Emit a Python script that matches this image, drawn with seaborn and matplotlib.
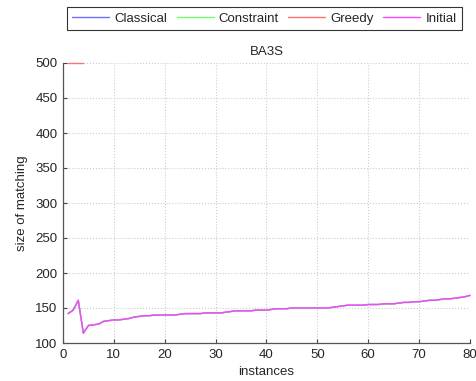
import numpy as np
import pandas as pd
import seaborn as sns
from matplotlib import pyplot as plt

# instance index and matching sizes
instances = list(range(1, 81))
initial = [142, 147, 161, 114, 125, 126, 127, 131, 132, 133,
           133, 134, 135, 137, 138, 139, 139, 140, 140, 140,
           140, 140, 141, 142, 142, 142, 142, 143, 143, 143,
           143, 144, 145, 146, 146, 146, 146, 147, 147, 147,
           148, 149, 149, 149, 150, 150, 150, 150, 150, 150,
           150, 150, 151, 152, 153, 154, 154, 154, 154, 155,
           155, 155, 156, 156, 156, 157, 158, 158, 159, 159,
           160, 161, 161, 162, 163, 163, 164, 165, 166, 168]
# Classical and Constraint lie under the Initial curve
classical = list(initial)
constraint = list(initial)
# Greedy only shows at the top edge for the first instances
greedy = [500, 500, 500, 500] + [np.nan] * 76

series_names = ["Classical", "Constraint", "Greedy", "Initial"]
series_colors = ["#7070ff", "#70ff70", "#ff7070", "#ff40ff"]
series_values = [classical, constraint, greedy, initial]

sns.set_style("ticks")
plt.rcParams["font.family"] = ["Liberation Sans", "DejaVu Sans"]
plt.rcParams["font.size"] = 9.5

fig = plt.figure(figsize=(4.77, 3.81), dpi=100)
ax = fig.add_axes([63 / 477, 1 - 343 / 381, 407 / 477, 280 / 381])

# one line per method, drawn in legend order so Initial ends on top
for name, vals, color in zip(series_names, series_values, series_colors):
    df = pd.DataFrame({"instances": instances, "size": vals}).dropna()
    sns.lineplot(data=df, x="instances", y="size", color=color,
                 linewidth=1.0, ax=ax, label=name, legend=False)
    ax.lines[-1].set_clip_on(False)

ax.set_xlim(0, 80)
ax.set_ylim(100, 500)
ax.set_xticks(range(0, 81, 10))
ax.set_yticks(range(100, 501, 50))
ax.grid(True, linestyle=":", color="#cccccc", linewidth=0.8)
ax.tick_params(direction="in", length=3, color="#444444", labelsize=9.5,
               pad=4)
sns.despine(ax=ax)
for side in ["left", "bottom"]:
    ax.spines[side].set_color("#555555")
    ax.spines[side].set_linewidth(0.9)

ax.set_xlabel("instances", fontsize=9.5, labelpad=4)
ax.set_ylabel("size of matching", fontsize=9.5, labelpad=5)
ax.set_title("BA3S", fontsize=9.5, pad=6)

handles = [plt.Line2D([], [], color=c, linewidth=1.0)
           for c in series_colors]
leg = fig.legend(handles, series_names, loc="upper left",
                 bbox_to_anchor=(67 / 477, 1 - 7 / 381), ncol=4,
                 frameon=True, fancybox=False, handlelength=2.8,
                 columnspacing=0.7, handletextpad=0.4, borderpad=0.4,
                 borderaxespad=0, fontsize=9.5)
leg.get_frame().set_edgecolor("black")
leg.get_frame().set_linewidth(0.8)

fig.savefig("out.png", dpi=100)
